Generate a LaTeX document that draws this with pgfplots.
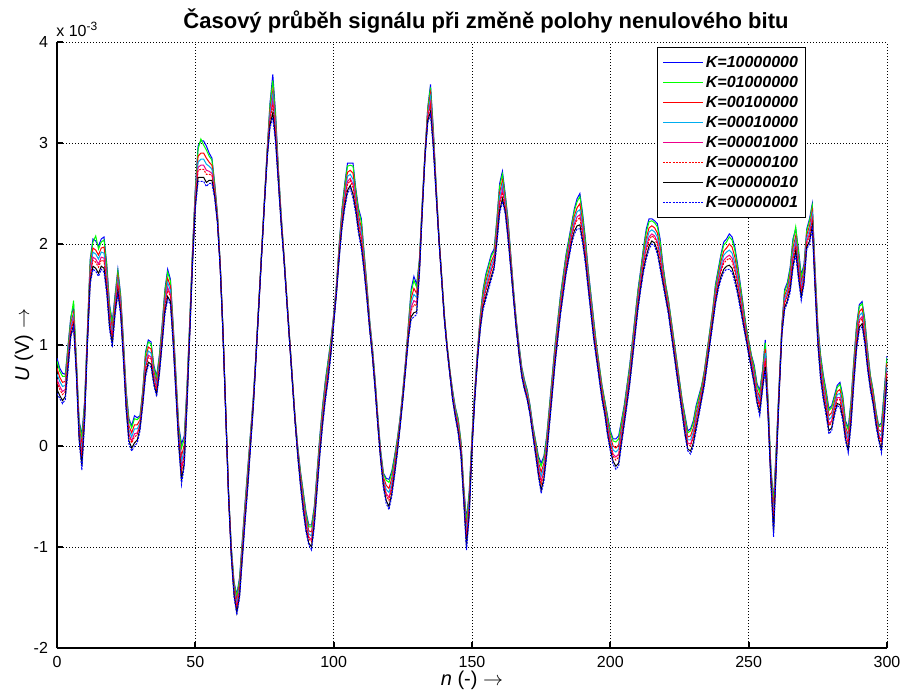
\documentclass[border=0pt]{standalone}
\usepackage{fontspec}
\setmainfont{Liberation Sans}
\usepackage{pgfplots}
\usepackage{pgfplotstable}
\pgfplotsset{compat=1.18}

% Signal samples in units of 1e-3 V, one column per position of the non-zero bit
\pgfplotstableread{
n b1 b2 b3 b4 b5 b6 b7 b8
0 0.87 0.84 0.77 0.71 0.66 0.63 0.56 0.52
1 0.77 0.74 0.68 0.64 0.59 0.56 0.50 0.47
2 0.72 0.69 0.63 0.59 0.54 0.51 0.45 0.42
3 0.71 0.69 0.64 0.60 0.56 0.54 0.49 0.46
4 1.00 0.98 0.93 0.89 0.85 0.83 0.78 0.75
5 1.28 1.26 1.22 1.19 1.16 1.14 1.10 1.08
6 1.38 1.44 1.32 1.29 1.26 1.24 1.20 1.18
7 0.85 0.84 0.81 0.78 0.76 0.75 0.72 0.70
8 0.25 0.23 0.19 0.16 0.13 0.11 0.07 0.05
9 0.11 0.08 0.01 -0.05 -0.10 -0.13 -0.20 -0.24
10 0.45 0.43 0.39 0.36 0.33 0.31 0.27 0.25
11 1.15 1.14 1.11 1.08 1.06 1.05 1.02 1.00
12 1.85 1.83 1.78 1.74 1.70 1.68 1.63 1.60
13 2.05 2.02 1.96 1.92 1.87 1.84 1.78 1.75
14 2.03 2.08 1.94 1.90 1.85 1.82 1.76 1.73
15 1.98 1.95 1.89 1.85 1.80 1.77 1.71 1.68
16 2.05 2.02 1.96 1.92 1.87 1.84 1.78 1.75
17 2.07 2.04 1.97 1.91 1.86 1.83 1.76 1.72
18 1.80 1.77 1.71 1.67 1.62 1.59 1.53 1.50
19 1.40 1.38 1.33 1.29 1.25 1.23 1.18 1.15
20 1.23 1.21 1.16 1.12 1.08 1.06 1.01 0.98
21 1.50 1.48 1.44 1.41 1.38 1.36 1.32 1.30
22 1.75 1.73 1.68 1.64 1.60 1.58 1.53 1.50
23 1.50 1.48 1.44 1.41 1.38 1.36 1.32 1.30
24 1.05 1.03 0.99 0.96 0.93 0.91 0.87 0.85
25 0.55 0.53 0.49 0.46 0.43 0.41 0.37 0.35
26 0.27 0.25 0.20 0.16 0.12 0.10 0.05 0.02
27 0.20 0.18 0.13 0.09 0.05 0.03 -0.02 -0.05
28 0.30 0.27 0.21 0.17 0.12 0.09 0.03 0.00
29 0.28 0.26 0.21 0.17 0.13 0.11 0.06 0.03
30 0.30 0.29 0.26 0.23 0.21 0.20 0.17 0.15
31 0.55 0.54 0.51 0.48 0.46 0.45 0.42 0.40
32 0.93 0.91 0.86 0.82 0.78 0.76 0.71 0.68
33 1.05 1.03 0.98 0.94 0.90 0.88 0.83 0.80
34 1.03 1.01 0.96 0.92 0.88 0.86 0.81 0.78
35 0.80 0.78 0.74 0.71 0.68 0.66 0.62 0.60
36 0.69 0.67 0.63 0.60 0.57 0.55 0.51 0.49
37 0.90 0.88 0.84 0.81 0.78 0.76 0.72 0.70
38 1.20 1.18 1.14 1.11 1.08 1.06 1.02 1.00
39 1.55 1.53 1.48 1.44 1.40 1.38 1.33 1.30
40 1.75 1.72 1.66 1.62 1.57 1.54 1.48 1.45
41 1.65 1.63 1.58 1.54 1.50 1.48 1.43 1.40
42 1.20 1.18 1.14 1.11 1.08 1.06 1.02 1.00
43 0.70 0.68 0.64 0.61 0.58 0.56 0.52 0.50
44 0.20 0.18 0.14 0.11 0.08 0.06 0.02 0.00
45 0.02 -0.02 -0.10 -0.16 -0.22 -0.26 -0.34 -0.38
46 0.10 0.07 0.01 -0.03 -0.08 -0.11 -0.17 -0.20
47 0.60 0.58 0.54 0.51 0.48 0.46 0.42 0.40
48 1.25 1.24 1.21 1.18 1.16 1.15 1.12 1.10
49 1.95 1.94 1.91 1.88 1.86 1.85 1.82 1.80
50 2.55 2.53 2.49 2.46 2.43 2.41 2.37 2.35
51 2.97 2.94 2.87 2.81 2.76 2.73 2.66 2.62
52 3.02 3.04 2.90 2.84 2.78 2.74 2.66 2.62
53 3.02 2.98 2.90 2.84 2.78 2.74 2.66 2.62
54 2.97 2.93 2.85 2.79 2.73 2.69 2.61 2.57
55 2.90 2.87 2.81 2.77 2.72 2.69 2.63 2.60
56 2.85 2.83 2.78 2.74 2.70 2.68 2.63 2.60
57 2.60 2.59 2.56 2.53 2.51 2.50 2.47 2.45
58 2.30 2.29 2.27 2.26 2.24 2.23 2.21 2.20
59 1.80 1.80 1.79 1.78 1.77 1.77 1.76 1.75
60 1.15 1.15 1.14 1.13 1.12 1.12 1.11 1.10
61 0.35 0.35 0.34 0.33 0.32 0.32 0.31 0.30
62 -0.45 -0.45 -0.46 -0.47 -0.48 -0.48 -0.49 -0.50
63 -1.00 -1.01 -1.03 -1.04 -1.06 -1.07 -1.09 -1.10
64 -1.35 -1.36 -1.39 -1.42 -1.44 -1.45 -1.48 -1.50
65 -1.47 -1.49 -1.53 -1.56 -1.59 -1.61 -1.65 -1.67
66 -1.30 -1.32 -1.36 -1.39 -1.42 -1.44 -1.48 -1.50
67 -0.92 -0.94 -0.98 -1.01 -1.04 -1.06 -1.10 -1.12
68 -0.55 -0.57 -0.61 -0.64 -0.67 -0.69 -0.73 -0.75
69 -0.20 -0.22 -0.26 -0.29 -0.32 -0.34 -0.38 -0.40
70 0.15 0.14 0.11 0.08 0.06 0.05 0.02 0.00
71 0.50 0.49 0.47 0.46 0.44 0.43 0.41 0.40
72 0.95 0.95 0.94 0.93 0.92 0.92 0.91 0.90
73 1.45 1.45 1.44 1.43 1.42 1.42 1.41 1.40
74 1.95 1.95 1.94 1.93 1.92 1.92 1.91 1.90
75 2.45 2.45 2.44 2.43 2.42 2.42 2.41 2.40
76 2.95 2.94 2.92 2.91 2.89 2.88 2.86 2.85
77 3.40 3.38 3.33 3.29 3.25 3.23 3.18 3.15
78 3.68 3.62 3.52 3.48 3.42 3.38 3.30 3.25
79 3.30 3.27 3.21 3.17 3.12 3.09 3.03 3.00
80 2.75 2.74 2.71 2.68 2.66 2.65 2.62 2.60
81 2.30 2.29 2.27 2.26 2.24 2.23 2.21 2.20
82 1.90 1.90 1.89 1.88 1.87 1.87 1.86 1.85
83 1.50 1.50 1.49 1.48 1.47 1.47 1.46 1.45
84 1.10 1.10 1.09 1.08 1.07 1.07 1.06 1.05
85 0.70 0.70 0.69 0.68 0.67 0.67 0.66 0.65
86 0.30 0.30 0.29 0.28 0.27 0.27 0.26 0.25
87 0.00 -0.01 -0.03 -0.04 -0.06 -0.07 -0.09 -0.10
88 -0.25 -0.26 -0.29 -0.32 -0.34 -0.35 -0.38 -0.40
89 -0.45 -0.47 -0.51 -0.54 -0.57 -0.59 -0.63 -0.65
90 -0.65 -0.67 -0.71 -0.74 -0.77 -0.79 -0.83 -0.85
91 -0.78 -0.80 -0.84 -0.87 -0.90 -0.92 -0.96 -0.98
92 -0.78 -0.80 -0.85 -0.89 -0.93 -0.95 -1.00 -1.03
93 -0.60 -0.62 -0.66 -0.69 -0.72 -0.74 -0.78 -0.80
94 -0.25 -0.27 -0.31 -0.34 -0.37 -0.39 -0.43 -0.45
95 0.10 0.08 0.04 0.01 -0.02 -0.04 -0.08 -0.10
96 0.40 0.38 0.34 0.31 0.28 0.26 0.22 0.20
97 0.65 0.63 0.59 0.56 0.53 0.51 0.47 0.45
98 0.85 0.83 0.79 0.76 0.73 0.71 0.67 0.65
99 1.05 1.04 1.01 0.98 0.96 0.95 0.92 0.90
100 1.30 1.29 1.27 1.26 1.24 1.23 1.21 1.20
101 1.60 1.59 1.57 1.56 1.54 1.53 1.51 1.50
102 2.00 1.99 1.96 1.93 1.91 1.90 1.87 1.85
103 2.35 2.33 2.29 2.26 2.23 2.21 2.17 2.15
104 2.60 2.58 2.53 2.49 2.45 2.43 2.38 2.35
105 2.80 2.77 2.71 2.67 2.62 2.59 2.53 2.50
106 2.80 2.78 2.73 2.69 2.65 2.63 2.58 2.55
107 2.80 2.77 2.70 2.64 2.59 2.56 2.49 2.45
108 2.55 2.53 2.48 2.44 2.40 2.38 2.33 2.30
109 2.35 2.33 2.28 2.24 2.20 2.18 2.13 2.10
110 2.25 2.22 2.16 2.12 2.07 2.04 1.98 1.95
111 1.92 1.90 1.86 1.83 1.80 1.78 1.74 1.72
112 1.60 1.59 1.56 1.53 1.51 1.50 1.47 1.45
113 1.25 1.24 1.22 1.21 1.19 1.18 1.16 1.15
114 0.98 0.97 0.95 0.94 0.92 0.91 0.89 0.88
115 0.65 0.64 0.62 0.61 0.59 0.58 0.56 0.55
116 0.28 0.27 0.25 0.24 0.22 0.21 0.19 0.18
117 -0.05 -0.06 -0.08 -0.09 -0.11 -0.12 -0.14 -0.15
118 -0.27 -0.28 -0.31 -0.34 -0.36 -0.37 -0.40 -0.42
119 -0.32 -0.34 -0.39 -0.43 -0.47 -0.49 -0.54 -0.57
120 -0.33 -0.36 -0.42 -0.46 -0.51 -0.54 -0.60 -0.63
121 -0.25 -0.27 -0.32 -0.36 -0.40 -0.42 -0.47 -0.50
122 -0.10 -0.12 -0.16 -0.19 -0.22 -0.24 -0.28 -0.30
123 0.07 0.06 0.03 0.00 -0.02 -0.03 -0.06 -0.08
124 0.28 0.27 0.25 0.24 0.22 0.21 0.19 0.18
125 0.55 0.54 0.52 0.51 0.49 0.48 0.46 0.45
126 0.85 0.84 0.82 0.81 0.79 0.78 0.76 0.75
127 1.20 1.19 1.16 1.13 1.11 1.10 1.07 1.05
128 1.55 1.52 1.46 1.42 1.37 1.34 1.28 1.25
129 1.68 1.64 1.56 1.50 1.44 1.40 1.32 1.28
130 1.60 1.57 1.51 1.47 1.42 1.39 1.33 1.30
131 1.85 1.84 1.81 1.78 1.76 1.75 1.72 1.70
132 2.40 2.39 2.37 2.36 2.34 2.33 2.31 2.30
133 2.90 2.90 2.89 2.88 2.87 2.87 2.86 2.85
134 3.35 3.34 3.31 3.28 3.26 3.25 3.22 3.20
135 3.58 3.55 3.49 3.45 3.40 3.37 3.31 3.28
136 3.15 3.13 3.09 3.06 3.03 3.01 2.97 2.95
137 2.60 2.59 2.57 2.56 2.54 2.53 2.51 2.50
138 2.10 2.10 2.09 2.08 2.07 2.07 2.06 2.05
139 1.70 1.70 1.69 1.68 1.67 1.67 1.66 1.65
140 1.30 1.30 1.29 1.28 1.27 1.27 1.26 1.25
141 1.00 1.00 0.99 0.98 0.97 0.97 0.96 0.95
142 0.75 0.75 0.74 0.73 0.72 0.72 0.71 0.70
143 0.55 0.54 0.52 0.51 0.49 0.48 0.46 0.45
144 0.38 0.37 0.35 0.34 0.32 0.31 0.29 0.28
145 0.27 0.26 0.23 0.20 0.18 0.17 0.14 0.12
146 0.05 0.04 0.01 -0.02 -0.04 -0.05 -0.08 -0.10
147 -0.40 -0.41 -0.44 -0.47 -0.49 -0.50 -0.53 -0.55
148 -0.73 -0.76 -0.82 -0.86 -0.91 -0.94 -1.00 -1.03
149 -0.45 -0.47 -0.52 -0.56 -0.60 -0.62 -0.67 -0.70
150 0.10 0.09 0.06 0.03 0.01 0.00 -0.03 -0.05
151 0.55 0.54 0.52 0.51 0.49 0.48 0.46 0.45
152 0.95 0.94 0.92 0.91 0.89 0.88 0.86 0.85
153 1.30 1.29 1.26 1.23 1.21 1.20 1.17 1.15
154 1.55 1.53 1.49 1.46 1.43 1.41 1.37 1.35
155 1.70 1.68 1.63 1.59 1.55 1.53 1.48 1.45
156 1.80 1.78 1.73 1.69 1.65 1.63 1.58 1.55
157 1.90 1.88 1.83 1.79 1.75 1.73 1.68 1.65
158 1.95 1.93 1.89 1.86 1.83 1.81 1.77 1.75
159 2.25 2.23 2.18 2.14 2.10 2.08 2.03 2.00
160 2.60 2.57 2.51 2.47 2.42 2.39 2.33 2.30
161 2.72 2.69 2.63 2.59 2.54 2.51 2.45 2.42
162 2.50 2.48 2.44 2.41 2.38 2.36 2.32 2.30
163 2.25 2.23 2.19 2.16 2.13 2.11 2.07 2.05
164 1.90 1.89 1.86 1.83 1.81 1.80 1.77 1.75
165 1.55 1.54 1.52 1.51 1.49 1.48 1.46 1.45
166 1.25 1.24 1.22 1.21 1.19 1.18 1.16 1.15
167 1.00 0.99 0.97 0.96 0.94 0.93 0.91 0.90
168 0.78 0.77 0.75 0.74 0.72 0.71 0.69 0.68
169 0.65 0.64 0.62 0.61 0.59 0.58 0.56 0.55
170 0.55 0.54 0.52 0.51 0.49 0.48 0.46 0.45
171 0.40 0.39 0.37 0.36 0.34 0.33 0.31 0.30
172 0.20 0.19 0.17 0.16 0.14 0.13 0.11 0.10
173 0.05 0.04 0.01 -0.02 -0.04 -0.05 -0.08 -0.10
174 -0.10 -0.12 -0.16 -0.19 -0.22 -0.24 -0.28 -0.30
175 -0.17 -0.20 -0.26 -0.30 -0.35 -0.38 -0.44 -0.47
176 -0.10 -0.12 -0.17 -0.21 -0.25 -0.27 -0.32 -0.35
177 0.10 0.08 0.04 0.01 -0.02 -0.04 -0.08 -0.10
178 0.40 0.38 0.34 0.31 0.28 0.26 0.22 0.20
179 0.70 0.68 0.64 0.61 0.58 0.56 0.52 0.50
180 1.00 0.98 0.94 0.91 0.88 0.86 0.82 0.80
181 1.25 1.23 1.19 1.16 1.13 1.11 1.07 1.05
182 1.50 1.48 1.44 1.41 1.38 1.36 1.32 1.30
183 1.70 1.68 1.64 1.61 1.58 1.56 1.52 1.50
184 1.90 1.88 1.84 1.81 1.78 1.76 1.72 1.70
185 2.05 2.03 1.99 1.96 1.93 1.91 1.87 1.85
186 2.20 2.18 2.14 2.11 2.08 2.06 2.02 2.00
187 2.35 2.33 2.28 2.24 2.20 2.18 2.13 2.10
188 2.45 2.42 2.36 2.32 2.27 2.24 2.18 2.15
189 2.50 2.47 2.40 2.34 2.29 2.26 2.19 2.15
190 2.30 2.27 2.21 2.17 2.12 2.09 2.03 2.00
191 2.05 2.03 1.98 1.94 1.90 1.88 1.83 1.80
192 1.75 1.73 1.69 1.66 1.63 1.61 1.57 1.55
193 1.50 1.48 1.44 1.41 1.38 1.36 1.32 1.30
194 1.25 1.23 1.19 1.16 1.13 1.11 1.07 1.05
195 1.00 0.99 0.96 0.93 0.91 0.90 0.87 0.85
196 0.80 0.79 0.76 0.73 0.71 0.70 0.67 0.65
197 0.60 0.59 0.56 0.53 0.51 0.50 0.47 0.45
198 0.45 0.44 0.41 0.38 0.36 0.35 0.32 0.30
199 0.30 0.28 0.24 0.21 0.18 0.16 0.12 0.10
200 0.15 0.13 0.09 0.06 0.03 0.01 -0.03 -0.05
201 0.07 0.05 0.00 -0.04 -0.08 -0.10 -0.15 -0.18
202 0.07 0.04 -0.02 -0.06 -0.11 -0.14 -0.20 -0.23
203 0.10 0.07 0.01 -0.03 -0.08 -0.11 -0.17 -0.20
204 0.25 0.23 0.18 0.14 0.10 0.08 0.03 0.00
205 0.40 0.38 0.34 0.31 0.28 0.26 0.22 0.20
206 0.60 0.58 0.54 0.51 0.48 0.46 0.42 0.40
207 0.80 0.78 0.74 0.71 0.68 0.66 0.62 0.60
208 1.05 1.03 0.99 0.96 0.93 0.91 0.87 0.85
209 1.30 1.28 1.24 1.21 1.18 1.16 1.12 1.10
210 1.55 1.53 1.49 1.46 1.43 1.41 1.37 1.35
211 1.75 1.73 1.69 1.66 1.63 1.61 1.57 1.55
212 1.97 1.95 1.90 1.86 1.82 1.80 1.75 1.72
213 2.15 2.12 2.06 2.02 1.97 1.94 1.88 1.85
214 2.25 2.22 2.16 2.12 2.07 2.04 1.98 1.95
215 2.25 2.23 2.18 2.14 2.10 2.08 2.03 2.00
216 2.23 2.21 2.16 2.12 2.08 2.06 2.01 1.98
217 2.20 2.17 2.11 2.07 2.02 1.99 1.93 1.90
218 2.05 2.02 1.96 1.92 1.87 1.84 1.78 1.75
219 1.80 1.78 1.74 1.71 1.68 1.66 1.62 1.60
220 1.60 1.59 1.56 1.53 1.51 1.50 1.47 1.45
221 1.45 1.44 1.41 1.38 1.36 1.35 1.32 1.30
222 1.25 1.24 1.21 1.18 1.16 1.15 1.12 1.10
223 1.05 1.04 1.01 0.98 0.96 0.95 0.92 0.90
224 0.85 0.84 0.81 0.78 0.76 0.75 0.72 0.70
225 0.65 0.64 0.61 0.58 0.56 0.55 0.52 0.50
226 0.45 0.44 0.41 0.38 0.36 0.35 0.32 0.30
227 0.30 0.28 0.24 0.21 0.18 0.16 0.12 0.10
228 0.15 0.13 0.09 0.06 0.03 0.01 -0.03 -0.05
229 0.17 0.15 0.10 0.06 0.02 0.00 -0.05 -0.08
230 0.25 0.23 0.18 0.14 0.10 0.08 0.03 0.00
231 0.40 0.38 0.33 0.29 0.25 0.23 0.18 0.15
232 0.50 0.48 0.44 0.41 0.38 0.36 0.32 0.30
233 0.60 0.59 0.56 0.53 0.51 0.50 0.47 0.45
234 0.75 0.74 0.71 0.68 0.66 0.65 0.62 0.60
235 0.95 0.94 0.91 0.88 0.86 0.85 0.82 0.80
236 1.15 1.14 1.11 1.08 1.06 1.05 1.02 1.00
237 1.35 1.34 1.31 1.28 1.26 1.25 1.22 1.20
238 1.60 1.58 1.54 1.51 1.48 1.46 1.42 1.40
239 1.75 1.73 1.69 1.66 1.63 1.61 1.57 1.55
240 1.90 1.88 1.83 1.79 1.75 1.73 1.68 1.65
241 2.02 1.99 1.93 1.89 1.84 1.81 1.75 1.72
242 2.05 2.02 1.96 1.92 1.87 1.84 1.78 1.75
243 2.10 2.07 2.00 1.94 1.89 1.86 1.79 1.75
244 2.07 2.04 1.97 1.91 1.86 1.83 1.76 1.72
245 1.97 1.94 1.87 1.81 1.76 1.73 1.66 1.62
246 1.80 1.77 1.71 1.67 1.62 1.59 1.53 1.50
247 1.60 1.58 1.53 1.49 1.45 1.43 1.38 1.35
248 1.40 1.38 1.34 1.31 1.28 1.26 1.22 1.20
249 1.20 1.19 1.16 1.13 1.11 1.10 1.07 1.05
250 1.05 1.04 1.01 0.98 0.96 0.95 0.92 0.90
251 0.90 0.89 0.86 0.83 0.81 0.80 0.77 0.75
252 0.80 0.78 0.74 0.71 0.68 0.66 0.62 0.60
253 0.62 0.60 0.56 0.53 0.50 0.48 0.44 0.42
254 0.55 0.53 0.48 0.44 0.40 0.38 0.33 0.30
255 0.75 0.73 0.69 0.66 0.63 0.61 0.57 0.55
256 1.05 1.02 0.96 0.92 0.87 0.84 0.78 0.75
257 0.45 0.44 0.41 0.38 0.36 0.35 0.32 0.30
258 -0.20 -0.21 -0.24 -0.27 -0.29 -0.30 -0.33 -0.35
259 -0.55 -0.58 -0.65 -0.71 -0.76 -0.79 -0.86 -0.90
260 0.00 -0.02 -0.06 -0.09 -0.12 -0.14 -0.18 -0.20
261 0.60 0.59 0.57 0.56 0.54 0.53 0.51 0.50
262 1.20 1.19 1.17 1.16 1.14 1.13 1.11 1.10
263 1.55 1.53 1.49 1.46 1.43 1.41 1.37 1.35
264 1.62 1.60 1.56 1.53 1.50 1.48 1.44 1.42
265 1.77 1.75 1.70 1.66 1.62 1.60 1.55 1.52
266 2.05 2.02 1.96 1.92 1.87 1.84 1.78 1.75
267 2.15 2.17 2.08 2.04 2.00 1.98 1.93 1.90
268 1.95 1.92 1.86 1.82 1.77 1.74 1.68 1.65
269 1.69 1.67 1.62 1.58 1.54 1.52 1.47 1.44
270 1.80 1.78 1.74 1.71 1.68 1.66 1.62 1.60
271 2.15 2.13 2.09 2.06 2.03 2.01 1.97 1.95
272 2.25 2.23 2.18 2.14 2.10 2.08 2.03 2.00
273 2.40 2.38 2.33 2.29 2.25 2.23 2.18 2.15
274 1.75 1.73 1.69 1.66 1.63 1.61 1.57 1.55
275 1.20 1.18 1.14 1.11 1.08 1.06 1.02 1.00
276 0.90 0.88 0.83 0.79 0.75 0.73 0.68 0.65
277 0.70 0.68 0.63 0.59 0.55 0.53 0.48 0.45
278 0.55 0.53 0.48 0.44 0.40 0.38 0.33 0.30
279 0.37 0.35 0.30 0.26 0.22 0.20 0.15 0.12
280 0.40 0.38 0.33 0.29 0.25 0.23 0.18 0.15
281 0.50 0.48 0.44 0.41 0.38 0.36 0.32 0.30
282 0.60 0.58 0.54 0.51 0.48 0.46 0.42 0.40
283 0.63 0.61 0.56 0.52 0.48 0.46 0.41 0.38
284 0.50 0.48 0.43 0.39 0.35 0.33 0.28 0.25
285 0.25 0.23 0.19 0.16 0.13 0.11 0.07 0.05
286 0.18 0.16 0.11 0.07 0.03 0.01 -0.04 -0.07
287 0.45 0.43 0.38 0.34 0.30 0.28 0.23 0.20
288 0.85 0.83 0.78 0.74 0.70 0.68 0.63 0.60
289 1.20 1.18 1.13 1.09 1.05 1.03 0.98 0.95
290 1.40 1.38 1.33 1.29 1.25 1.23 1.18 1.15
291 1.43 1.41 1.36 1.32 1.28 1.26 1.21 1.18
292 1.25 1.23 1.18 1.14 1.10 1.08 1.03 1.00
293 0.95 0.93 0.89 0.86 0.83 0.81 0.77 0.75
294 0.70 0.69 0.66 0.63 0.61 0.60 0.57 0.55
295 0.55 0.54 0.51 0.48 0.46 0.45 0.42 0.40
296 0.35 0.34 0.31 0.28 0.26 0.25 0.22 0.20
297 0.20 0.19 0.16 0.13 0.11 0.10 0.07 0.05
298 0.23 0.20 0.14 0.10 0.05 0.02 -0.04 -0.07
299 0.55 0.52 0.46 0.42 0.37 0.34 0.28 0.25
300 0.89 0.87 0.82 0.78 0.74 0.72 0.67 0.64
}\sig

\begin{document}
\begin{tikzpicture}
\begin{axis}[
  name=ax, at={(0,0)}, anchor=south west,
  scale only axis, width=415pt, height=303pt,
  xmin=0, xmax=300, ymin=-2, ymax=4,
  xtick={0,50,...,300}, ytick={-2,-1,...,4},
  axis x line*=bottom, axis y line*=left,
  axis line style={-, black, line width=1pt},
  grid=major,
  major grid style={black, line width=0.5pt, dash pattern=on 0.5pt off 1pt},
  tick align=inside, major tick length=3pt,
  tick style={black, line width=1pt},
  tick label style={font=\fontsize{8}{9}\selectfont},
  /pgf/number format/assume math mode=true,
  xticklabel style={yshift=-0.5pt},
  yticklabel style={xshift=-1pt},
  legend cell align=left,
  legend image code/.code={\draw[#1] (0pt,0pt) -- (20pt,0pt);},
  legend style={at={(0.9024,0.9917)}, anchor=north east,
    draw=black, line width=0.6pt, fill=white,
    font=\fontsize{8}{9.5}\selectfont\bfseries\itshape,
    inner xsep=2.5pt, inner ysep=2.5pt, row sep=0pt,
    nodes={inner sep=1.2pt, text height=6pt, text depth=1.6pt}},
  every axis plot/.append style={line width=0.5pt},
]
\addplot[blue] table[x=n, y=b1] {\sig};
\addlegendentry{K=10000000}
\addplot[green] table[x=n, y=b2] {\sig};
\addlegendentry{K=01000000}
\addplot[red] table[x=n, y=b3] {\sig};
\addlegendentry{K=00100000}
\addplot[cyan] table[x=n, y=b4] {\sig};
\addlegendentry{K=00010000}
\addplot[magenta] table[x=n, y=b5] {\sig};
\addlegendentry{K=00001000}
\addplot[red, dash pattern=on 1pt off 0.6pt] table[x=n, y=b6] {\sig};
\addlegendentry{K=00000100}
\addplot[black] table[x=n, y=b7] {\sig};
\addlegendentry{K=00000010}
\addplot[blue, dash pattern=on 1pt off 0.6pt] table[x=n, y=b8] {\sig};
\addlegendentry{K=00000001}
\end{axis}
% title, axis labels and exponent
\node[anchor=base, font=\bfseries\fontsize{11}{13}\selectfont]
  at ([xshift=7pt, yshift=7pt]ax.north) {Časový průběh signálu při změně polohy nenulového bitu};
\node[anchor=base, font=\fontsize{10}{12}\selectfont]
  at ([yshift=-18.5pt]ax.south) {\textit{n} (-) $\rightarrow$};
\node[anchor=base, rotate=90, font=\fontsize{10}{12}\selectfont]
  at ([xshift=-14pt]ax.west) {\textit{U} (V) $\rightarrow$};
\node[anchor=base west, inner sep=0pt, font=\fontsize{8}{9}\selectfont]
  at ([xshift=-0.5pt, yshift=3pt]ax.north west) {x 10\textsuperscript{-3}};
\pgfresetboundingbox
\path[use as bounding box] (-28.5pt,-24.5pt) rectangle (421.5pt,324pt);
\end{tikzpicture}
\end{document}
